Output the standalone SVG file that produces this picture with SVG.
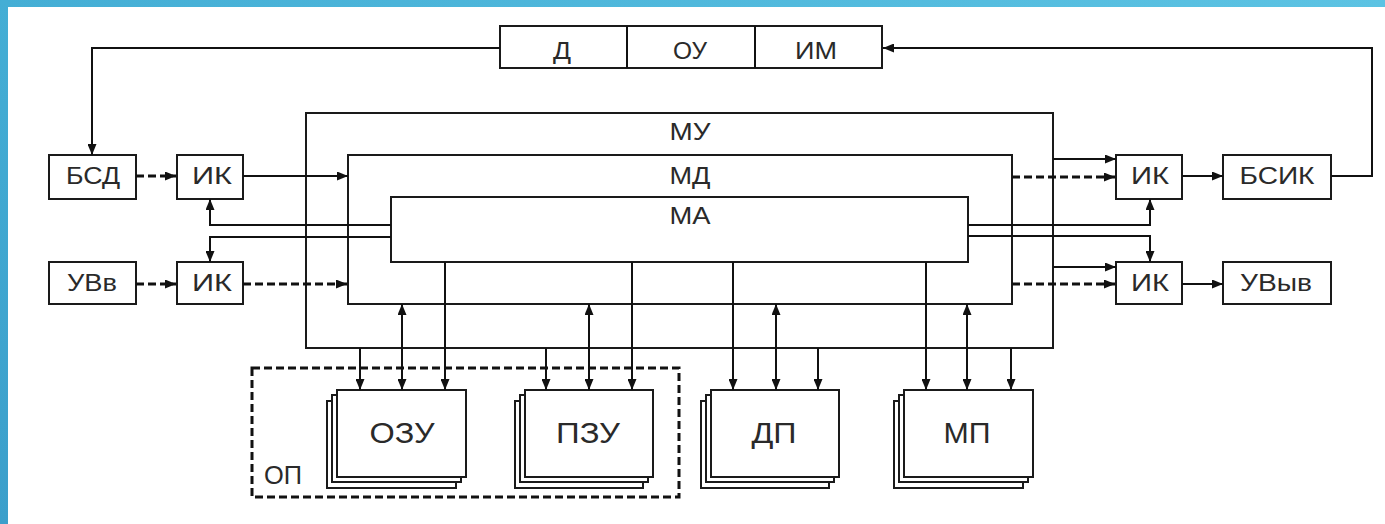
<svg xmlns="http://www.w3.org/2000/svg" width="1385" height="524" viewBox="0 0 1385 524">
<defs>
<linearGradient id="bar" x1="0" y1="0" x2="1" y2="0">
<stop offset="0" stop-color="#44aed5"/>
<stop offset="1" stop-color="#5cc3e3"/>
</linearGradient>
<linearGradient id="side" x1="0" y1="0" x2="0" y2="1">
<stop offset="0" stop-color="#44aed5"/>
<stop offset="1" stop-color="#3b9fcb"/>
</linearGradient>
<marker id="ah" markerUnits="userSpaceOnUse" markerWidth="11" markerHeight="9" refX="11" refY="4.5" orient="auto-start-reverse">
<path d="M0,0 L11,4.5 L0,9 z" fill="#111"/>
</marker>
</defs>
<style>
.box{fill:#fff;stroke:#1a1a1a;stroke-width:2}
.ln{fill:none;stroke:#111;stroke-width:2}
.dl{fill:none;stroke:#111;stroke-width:3;stroke-dasharray:8 4}
.t{font-family:"Liberation Sans",Arial,sans-serif;fill:#2a2a2a;text-anchor:middle}
.op{fill:none;stroke:#111;stroke-width:3;stroke-dasharray:8 4}
</style>
<rect x="0" y="0" width="1385" height="524" fill="#fff"/>
<rect x="0" y="0" width="1385" height="7" fill="url(#bar)"/>
<rect x="0" y="0" width="8" height="524" fill="url(#side)"/>

<g id="top-DOUIM">
<rect class="box" x="500" y="26" width="382" height="42"/>
<line class="ln" x1="627" y1="26" x2="627" y2="68"/>
<line class="ln" x1="755" y1="26" x2="755" y2="68"/>
<text class="t" x="562" y="59" font-size="23" textLength="18" lengthAdjust="spacingAndGlyphs">Д</text>
<text class="t" x="690" y="59" font-size="23" textLength="34" lengthAdjust="spacingAndGlyphs">ОУ</text>
<text class="t" x="816" y="59" font-size="23" textLength="42" lengthAdjust="spacingAndGlyphs">ИМ</text>
</g>

<g id="MU">
<rect class="box" x="306" y="113" width="747" height="235"/>
<text class="t" x="690" y="140" font-size="23" textLength="41" lengthAdjust="spacingAndGlyphs">МУ</text>
</g>
<g id="MD">
<rect class="box" x="348" y="155" width="664" height="149"/>
<text class="t" x="690" y="184" font-size="23" textLength="41" lengthAdjust="spacingAndGlyphs">МД</text>
</g>
<g id="MA">
<rect class="box" x="391" y="197" width="577" height="65"/>
<text class="t" x="690" y="224" font-size="23" textLength="41" lengthAdjust="spacingAndGlyphs">МА</text>
</g>

<g id="BSD">
<rect class="box" x="49" y="155" width="87" height="44"/>
<text class="t" x="93" y="184" font-size="24" textLength="54" lengthAdjust="spacingAndGlyphs">БСД</text>
</g>
<g id="IK1">
<rect class="box" x="177" y="155" width="66" height="44"/>
<text class="t" x="212" y="184" font-size="24" textLength="40" lengthAdjust="spacingAndGlyphs">ИК</text>
</g>
<g id="UVv">
<rect class="box" x="49" y="262" width="87" height="42"/>
<text class="t" x="92" y="291" font-size="24" textLength="50" lengthAdjust="spacingAndGlyphs">УВв</text>
</g>
<g id="IK2">
<rect class="box" x="177" y="262" width="66" height="42"/>
<text class="t" x="212" y="291" font-size="24" textLength="40" lengthAdjust="spacingAndGlyphs">ИК</text>
</g>
<g id="IK3">
<rect class="box" x="1116" y="155" width="66" height="44"/>
<text class="t" x="1150" y="184" font-size="24" textLength="38" lengthAdjust="spacingAndGlyphs">ИК</text>
</g>
<g id="BSIK">
<rect class="box" x="1223" y="155" width="108" height="44"/>
<text class="t" x="1277" y="184" font-size="24" textLength="75" lengthAdjust="spacingAndGlyphs">БСИК</text>
</g>
<g id="IK4">
<rect class="box" x="1116" y="262" width="66" height="42"/>
<text class="t" x="1150" y="291" font-size="24" textLength="38" lengthAdjust="spacingAndGlyphs">ИК</text>
</g>
<g id="UVyv">
<rect class="box" x="1223" y="262" width="108" height="42"/>
<text class="t" x="1276" y="291" font-size="24" textLength="72" lengthAdjust="spacingAndGlyphs">УВыв</text>
</g>

<g id="OP">
<rect class="op" x="252" y="368" width="427" height="129"/>
<text class="t" x="283" y="484" font-size="25" textLength="38" lengthAdjust="spacingAndGlyphs">ОП</text>
</g>
<g id="OZU">
<rect class="box" x="327" y="401" width="129" height="87"/>
<rect class="box" x="332" y="395" width="129" height="87"/>
<rect class="box" x="337" y="390" width="129" height="87"/>
<text class="t" x="402" y="443" font-size="30" textLength="65" lengthAdjust="spacingAndGlyphs">ОЗУ</text>
</g>
<g id="PZU">
<rect class="box" x="515" y="401" width="128" height="87"/>
<rect class="box" x="520" y="395" width="128" height="87"/>
<rect class="box" x="525" y="390" width="128" height="87"/>
<text class="t" x="588" y="443" font-size="30" textLength="64" lengthAdjust="spacingAndGlyphs">ПЗУ</text>
</g>
<g id="DP">
<rect class="box" x="701" y="401" width="128" height="87"/>
<rect class="box" x="706" y="395" width="128" height="87"/>
<rect class="box" x="711" y="390" width="128" height="87"/>
<text class="t" x="774" y="443" font-size="30" textLength="45" lengthAdjust="spacingAndGlyphs">ДП</text>
</g>
<g id="MP">
<rect class="box" x="894" y="401" width="129" height="87"/>
<rect class="box" x="899" y="395" width="129" height="87"/>
<rect class="box" x="904" y="390" width="129" height="87"/>
<text class="t" x="967" y="443" font-size="30" textLength="47" lengthAdjust="spacingAndGlyphs">МП</text>
</g>

<g id="connectors">
<path class="ln" d="M500,48 H92 V155" marker-end="url(#ah)"/>
<path class="ln" d="M1331,176 H1372 V48 H883" marker-end="url(#ah)"/>

<line class="dl" x1="136" y1="176" x2="176" y2="176" marker-end="url(#ah)"/>
<line class="ln" x1="243" y1="176" x2="348" y2="176" marker-end="url(#ah)"/>
<path class="ln" d="M391,225 H210 V199" marker-end="url(#ah)"/>
<path class="ln" d="M391,237 H210 V262" marker-end="url(#ah)"/>
<line class="dl" x1="136" y1="284" x2="176" y2="284" marker-end="url(#ah)"/>
<line class="dl" x1="243" y1="284" x2="347" y2="284" marker-end="url(#ah)"/>

<line class="ln" x1="1053" y1="159" x2="1116" y2="159" marker-end="url(#ah)"/>
<line class="dl" x1="1012" y1="177" x2="1115" y2="177" marker-end="url(#ah)"/>
<path class="ln" d="M968,225 H1150 V199" marker-end="url(#ah)"/>
<path class="ln" d="M968,236 H1150 V262" marker-end="url(#ah)"/>
<line class="ln" x1="1053" y1="267" x2="1116" y2="267" marker-end="url(#ah)"/>
<line class="dl" x1="1012" y1="284" x2="1115" y2="284" marker-end="url(#ah)"/>
<line class="ln" x1="1182" y1="176" x2="1223" y2="176" marker-end="url(#ah)"/>
<line class="ln" x1="1182" y1="284" x2="1223" y2="284" marker-end="url(#ah)"/>

<line class="ln" x1="360" y1="348" x2="360" y2="390" marker-end="url(#ah)"/>
<line class="ln" x1="402" y1="304" x2="402" y2="390" marker-start="url(#ah)" marker-end="url(#ah)"/>
<line class="ln" x1="445" y1="262" x2="445" y2="390" marker-end="url(#ah)"/>

<line class="ln" x1="546" y1="348" x2="546" y2="390" marker-end="url(#ah)"/>
<line class="ln" x1="589" y1="304" x2="589" y2="390" marker-start="url(#ah)" marker-end="url(#ah)"/>
<line class="ln" x1="632" y1="262" x2="632" y2="390" marker-end="url(#ah)"/>

<line class="ln" x1="733" y1="262" x2="733" y2="390" marker-end="url(#ah)"/>
<line class="ln" x1="776" y1="304" x2="776" y2="390" marker-start="url(#ah)" marker-end="url(#ah)"/>
<line class="ln" x1="818" y1="348" x2="818" y2="390" marker-end="url(#ah)"/>

<line class="ln" x1="926" y1="262" x2="926" y2="390" marker-end="url(#ah)"/>
<line class="ln" x1="967" y1="304" x2="967" y2="390" marker-start="url(#ah)" marker-end="url(#ah)"/>
<line class="ln" x1="1011" y1="348" x2="1011" y2="390" marker-end="url(#ah)"/>
</g>
</svg>
